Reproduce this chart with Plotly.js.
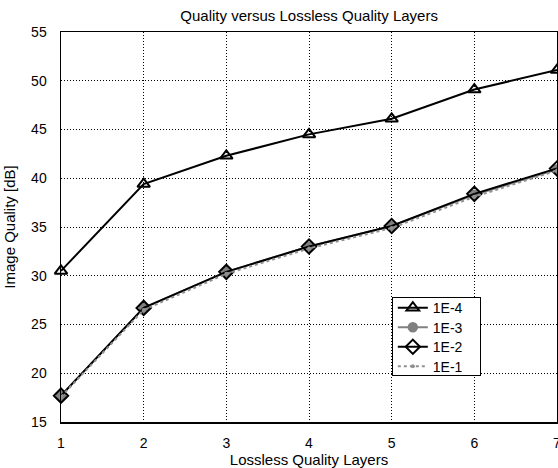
<!DOCTYPE html>
<html>
<head>
<meta charset="utf-8">
<script src="https://cdn.plot.ly/plotly-3.0.1.min.js"></script>
<style>html,body{margin:0;padding:0;background:#fff;overflow:hidden}</style>
</head>
<body>
<div id="chart" style="width:558px;height:468px"></div>
<script>
const layers = [1, 2, 3, 4, 5, 6, 7];
const q1e4 = [30.5, 39.4, 42.3, 44.5, 46.1, 49.1, 51.1];
const q1e3 = [17.7, 26.7, 30.4, 33.0, 35.1, 38.3, 40.9];
const q1e2 = [17.7, 26.7, 30.4, 33.0, 35.1, 38.4, 41.0];
const q1e1 = [17.6, 26.5, 30.2, 32.8, 34.9, 38.1, 40.8];
const seriesNames = ['1E-4', '1E-3', '1E-2', '1E-1'];

const traces = [
  {x: layers, y: q1e4, name: seriesNames[0], mode: 'lines+markers', cliponaxis: false,
   line: {color: '#000', width: 2},
   marker: {symbol: 'triangle-up-open', size: 11, color: '#000', line: {width: 2, color: '#000'}}},
  {x: layers, y: q1e3, name: seriesNames[1], mode: 'lines+markers', cliponaxis: false,
   line: {color: '#808080', width: 2},
   marker: {symbol: 'circle', size: 9, color: '#808080', line: {width: 1.5, color: '#808080'}}},
  {x: layers, y: q1e2, name: seriesNames[2], mode: 'lines+markers', cliponaxis: false,
   line: {color: '#000', width: 2},
   marker: {symbol: 'diamond-open', size: 11, color: '#000', line: {width: 2, color: '#000'}}},
  {x: layers, y: q1e1, name: seriesNames[3], mode: 'lines+markers', cliponaxis: false,
   line: {color: '#909090', width: 2, dash: 'dot'},
   marker: {symbol: 'circle', size: 4, color: '#909090'}}
];

const fam = 'Liberation Sans, Arial, sans-serif';
const tickFont = {family: fam, size: 14, color: '#000'};
const titleFont = {family: fam, size: 15, color: '#000'};

const layout = {
  width: 558, height: 468,
  margin: {l: 61, r: 1, t: 32, b: 46},
  paper_bgcolor: '#fff', plot_bgcolor: '#fff',
  font: tickFont,
  title: {text: 'Quality versus Lossless Quality Layers', font: titleFont,
          x: 0.554, xanchor: 'center', y: 0.966, yanchor: 'middle'},
  showlegend: true,
  legend: {x: 0.667, y: 0.32, xanchor: 'left', yanchor: 'top', bgcolor: '#fff',
           bordercolor: '#000', borderwidth: 1, font: {family: fam, size: 14, color: '#000'},
           tracegroupgap: 0, itemwidth: 30, entrywidth: 70},
  xaxis: {range: [1, 7], tickvals: layers, ticktext: layers.map(String),
          showgrid: true, gridcolor: '#000', griddash: '1px,2px', gridwidth: 1,
          zeroline: false, showline: true, linecolor: '#000', linewidth: 1.5, mirror: true,
          ticks: '', ticklabelstandoff: 8, ticklabeloverflow: 'allow', tickfont: tickFont,
          title: {text: 'Lossless Quality Layers', font: titleFont, standoff: 3}},
  yaxis: {range: [15, 55], dtick: 5, tick0: 15,
          showgrid: true, gridcolor: '#000', griddash: '1px,2px', gridwidth: 1,
          zeroline: false, showline: true, linecolor: '#000', linewidth: 1.5, mirror: true,
          ticks: '', ticklabelstandoff: 10, tickfont: tickFont,
          title: {text: 'Image Quality [dB]', font: titleFont, standoff: 12}}
};

Plotly.newPlot('chart', traces, layout, {displayModeBar: false, staticPlot: true}).then(() => {
  // tighten legend row spacing to match reference
  const rows = document.querySelectorAll('.legend .traces');
  rows.forEach((r, i) => {
    r.setAttribute('transform', 'translate(1,' + (10.5 + i * 19.5) + ')');
  });
  const bg = document.querySelector('.legend .bg');
  if (bg) { bg.setAttribute('height', 78); bg.setAttribute('width', 88); }
});
</script>
</body>
</html>
